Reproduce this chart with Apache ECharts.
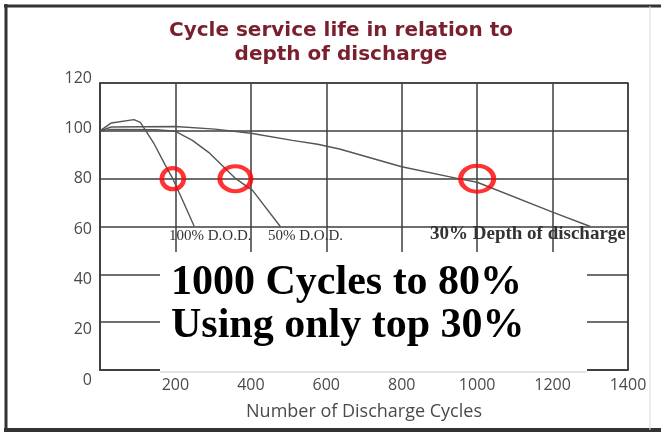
<!DOCTYPE html>
<html>
<head>
<meta charset="utf-8">
<script src="https://cdn.jsdelivr.net/npm/echarts@6/dist/echarts.min.js"></script>
<style>
html,body{margin:0;padding:0;background:#fff;}
#c{width:661px;height:432px;}
</style>
</head>
<body>
<div id="c"></div>
<script>
// ---- data ----
var xTicks = [0, 200, 400, 600, 800, 1000, 1200, 1400];
var yTicks = [0, 20, 40, 60, 80, 100, 120];
var dod100 = [[0,100],[30,103.3],[90,104.7],[107,103.5],[142,95],[172,86],[193,80],[219,71],[250,60]];
var dod50  = [[0,100],[30,100.6],[150,100.5],[200,99.8],[245,96],[288,91],[360,80],[405,75],[478,60]];
var dod30  = [[0,100],[30,101.6],[200,101.8],[305,100.7],[400,99],[510,96],[577,94.4],[635,92.4],[800,85],[950,80],[1000,78.5],[1200,66],[1300,60]];
var highlights = [[193,80],[359,80],[1000,80]];
var seriesLabels = ['100% D.O.D.', '50% D.O.D.', '30% Depth of discharge'];
var titleText = 'Cycle service life in relation to\ndepth of discharge';
var xName = 'Number of Discharge Cycles';
var noteText = '1000 Cycles to 80%\nUsing only top 30%';

// ---- chart ----
var chart = echarts.init(document.getElementById('c'), null, {renderer:'canvas'});
var gridColor = '#3e3e3e';
var lineColor = '#555555';
var labelColor = '#4a4a4a';
var circleSizes = [[22,21],[31,25],[33,26]];

var option = {
  backgroundColor: '#ffffff',
  animation: false,
  title: {
    text: titleText,
    left: 336,
    top: 14,
    textAlign: 'center',
    textStyle: {
      fontFamily: 'DejaVu Sans',
      fontWeight: 'bold',
      fontSize: 20,
      lineHeight: 24,
      color: '#7a1f2e'
    }
  },
  grid: [
    {left: 100, right: 33, top: 83, bottom: 62, show: true, borderColor: gridColor, borderWidth: 1.5},
    {left: 100, right: 33, top: 78, bottom: 52, show: false}
  ],
  xAxis: [
    {
      type: 'value', gridIndex: 0, min: xTicks[0], max: xTicks[xTicks.length-1], interval: 200,
      name: xName, nameLocation: 'middle', nameGap: 33,
      nameTextStyle: {fontFamily: 'Open Sans', fontSize: 18, color: labelColor},
      axisLine: {show: true, lineStyle: {color: gridColor, width: 1.5}},
      axisTick: {show: false},
      splitLine: {show: true, lineStyle: {color: gridColor, width: 1.5}},
      axisLabel: {
        margin: 7, fontFamily: 'Open Sans', fontSize: 16, color: labelColor,
        formatter: function (v) { return v === 0 ? '' : String(v); }
      }
    },
    {type: 'value', gridIndex: 1, min: xTicks[0], max: xTicks[xTicks.length-1], show: false}
  ],
  yAxis: [
    {
      type: 'value', gridIndex: 0, min: yTicks[0], max: yTicks[yTicks.length-1], interval: 20,
      axisLine: {show: true, lineStyle: {color: gridColor, width: 1.5}},
      axisTick: {show: false},
      splitLine: {show: true, lineStyle: {color: gridColor, width: 1.5}},
      axisLabel: {show: false}
    },
    {
      type: 'value', gridIndex: 1, min: yTicks[0], max: yTicks[yTicks.length-1], interval: 20,
      axisLine: {show: false}, axisTick: {show: false}, splitLine: {show: false},
      axisLabel: {margin: 8, fontFamily: 'Open Sans', fontSize: 16, color: labelColor}
    }
  ],
  series: [
    {name: seriesLabels[0], type: 'line', data: dod100, symbol: 'none', lineStyle: {color: lineColor, width: 1.4}, z: 3},
    {name: seriesLabels[1], type: 'line', data: dod50, symbol: 'none', lineStyle: {color: lineColor, width: 1.4}, z: 3},
    {name: seriesLabels[2], type: 'line', data: dod30, symbol: 'none', lineStyle: {color: lineColor, width: 1.4}, z: 3},
    {
      type: 'scatter', z: 5,
      data: highlights.map(function (p, i) { return {value: p, symbolSize: circleSizes[i]}; }),
      symbol: 'circle',
      itemStyle: {color: 'rgba(0,0,0,0)', borderColor: '#ff0000', borderWidth: 4.5}
    }
  ],
  graphic: [
    // annotation labels
    {type: 'text', z: 50, left: 169, top: 229, style: {text: seriesLabels[0], font: '15px "Liberation Serif"', fill: '#333'}},
    {type: 'text', z: 50, left: 268, top: 229, style: {text: seriesLabels[1], font: '15px "Liberation Serif"', fill: '#333'}},
    {type: 'text', z: 50, left: 430, top: 225, style: {text: seriesLabels[2], font: 'bold 19px "Liberation Serif"', fill: '#333'}},
    // white note box
    {type: 'rect', z: 60, shape: {x: 160, y: 252, width: 427, height: 120}, style: {fill: '#ffffff'}},
    {type: 'line', z: 61, shape: {x1: 160, y1: 372, x2: 587, y2: 372}, style: {stroke: '#c8c8c8', lineWidth: 1}},
    {type: 'text', z: 62, left: 171, top: 262, style: {text: noteText, font: 'bold 42px "Liberation Serif"', fill: '#000', lineHeight: 43}},
    // outer frame
    {type: 'line', z: 70, shape: {x1: 4, y1: 6, x2: 661, y2: 6}, style: {stroke: '#333', lineWidth: 3}},
    {type: 'line', z: 70, shape: {x1: 6, y1: 4, x2: 6, y2: 432}, style: {stroke: '#333', lineWidth: 3}},
    {type: 'line', z: 70, shape: {x1: 4, y1: 430, x2: 661, y2: 430}, style: {stroke: '#333', lineWidth: 4}},
    {type: 'line', z: 70, shape: {x1: 650, y1: 6, x2: 650, y2: 430}, style: {stroke: '#d8d8d8', lineWidth: 1}}
  ]
};
chart.setOption(option);
</script>
</body>
</html>
